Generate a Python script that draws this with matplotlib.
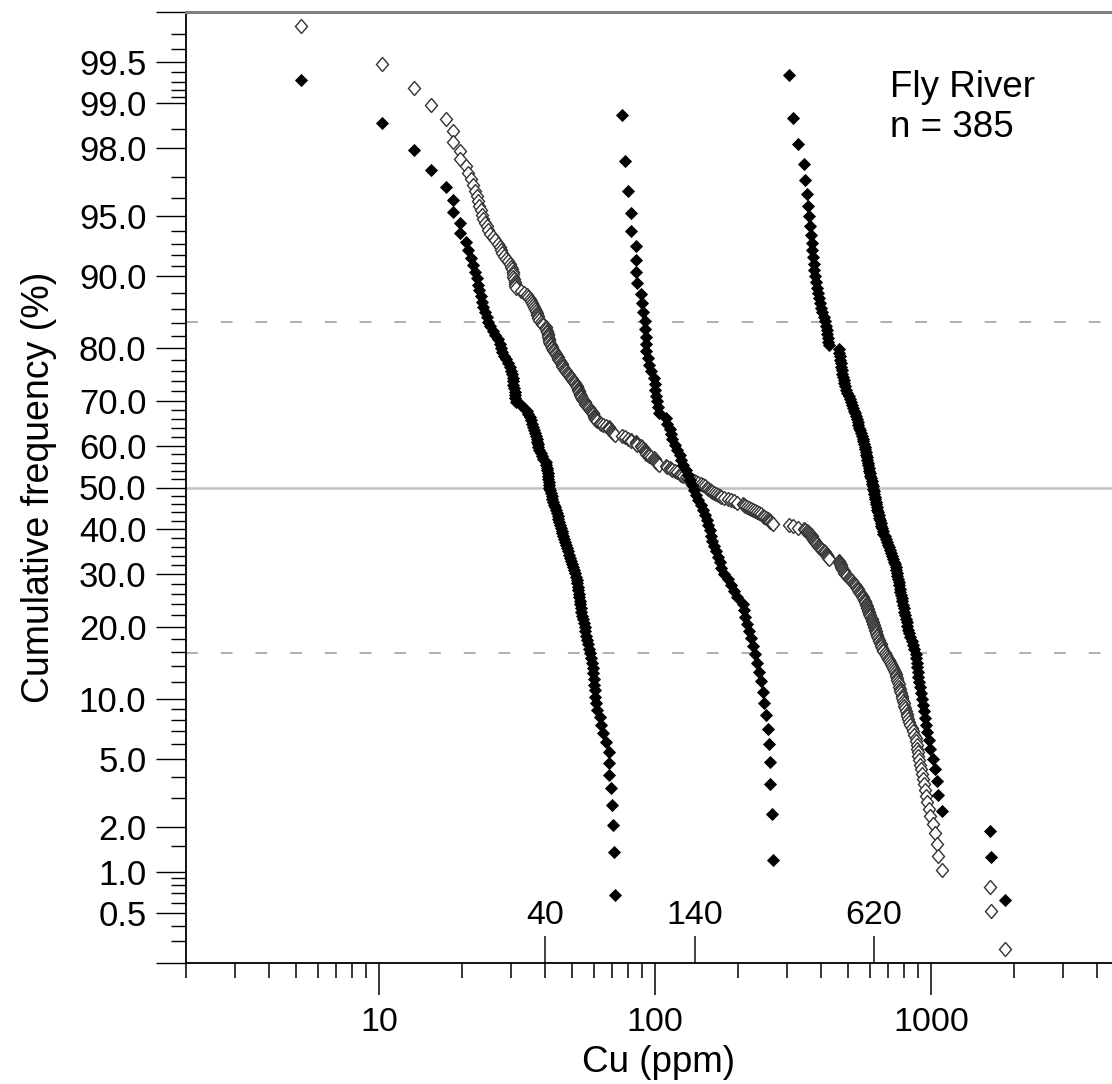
import math
import numpy as np
import matplotlib
matplotlib.use("Agg")
import matplotlib.pyplot as plt
from matplotlib.markers import MarkerStyle
from matplotlib.transforms import Affine2D
from matplotlib.ticker import LogLocator, NullFormatter

plt.rcParams['font.family'] = ['Liberation Sans', 'DejaVu Sans']
plt.rcParams['lines.scale_dashes'] = False

# Cu (ppm) of the three partitioned populations, sorted
cu_low = [
    5.2, 10.3, 13.4, 15.5, 17.5, 18.5, 18.5, 19.6, 19.6, 20.6,
    21.1, 21.6, 22.0, 22.3, 22.6, 22.9, 23.1, 23.4, 23.6, 23.9,
    24.2, 24.6, 24.9, 25.3, 25.8, 26.4, 26.9, 27.4, 27.6, 27.9,
    28.4, 28.9, 29.4, 29.8, 30.1, 30.3, 30.5, 30.6, 30.7, 30.8,
    31.0, 31.1, 31.1, 31.4, 32.7, 33.5, 34.4, 34.8, 35.2, 35.5,
    35.8, 36.1, 36.4, 36.7, 37.0, 37.3, 37.5, 37.6, 37.8, 38.1,
    38.6, 39.1, 39.4, 40.3, 40.4, 40.6, 40.8, 40.9, 41.1, 41.1,
    41.3, 41.3, 41.3, 41.6, 42.0, 42.3, 42.5, 42.7, 43.0, 43.4,
    43.8, 44.1, 44.5, 44.7, 45.1, 45.2, 45.6, 46.0, 46.2, 46.6,
    47.0, 47.3, 47.8, 48.2, 48.4, 48.8, 49.2, 49.6, 49.9, 50.5,
    50.9, 51.3, 51.7, 52.2, 52.4, 52.6, 52.8, 53.0, 53.2, 53.4,
    53.7, 53.9, 54.1, 54.4, 55.0, 55.5, 55.6, 55.9, 56.2, 56.6,
    57.3, 57.8, 58.2, 58.7, 59.2, 59.7, 59.9, 60.1, 60.4, 60.7,
    60.9, 61.4, 61.9, 63.0, 64.0, 65.1, 66.7, 67.9, 67.9, 68.1,
    69.4, 69.7, 70.7, 71.3, 71.7]

cu_mid = [
    75.9, 78.0, 80.2, 81.8, 81.8, 85.7, 85.7, 85.7, 86.4, 89.1,
    90.0, 90.8, 91.7, 92.4, 92.6, 92.6, 93.2, 94.4, 95.5, 97.1,
    99.2, 100.2, 100.4, 101.1, 102.1, 102.9, 103.4, 109.5, 110.9, 113.2,
    114.6, 115.6, 118.0, 120.5, 123.0, 124.5, 126.6, 129.3, 132.0, 133.6,
    136.4, 138.1, 140.4, 143.4, 146.4, 148.8, 151.9, 153.8, 155.8, 157.7,
    159.7, 160.7, 163.7, 166.4, 169.2, 172.0, 174.2, 178.6, 183.8, 188.4,
    193.2, 197.7, 208.1, 210.7, 212.5, 214.8, 218.7, 222.4, 226.1, 229.9,
    233.7, 237.6, 241.6, 245.6, 248.7, 251.8, 256.0, 258.8, 260.9, 260.9,
    264.6, 268.4]

cu_high = [
    307.2, 317.0, 328.8, 347.8, 349.3, 356.0, 358.1, 362.0, 365.6, 367.1,
    370.1, 372.3, 374.8, 376.9, 378.5, 381.7, 384.2, 386.7, 390.6, 393.2,
    397.1, 400.4, 404.4, 408.8, 412.2, 415.6, 419.1, 421.5, 423.6, 425.0,
    426.1, 465.2, 466.4, 467.9, 469.5, 470.6, 471.8, 474.6, 476.9, 480.1,
    482.5, 484.9, 488.9, 493.4, 498.3, 502.9, 507.9, 512.6, 517.3, 522.0,
    527.2, 531.1, 535.1, 539.1, 543.2, 545.9, 549.9, 553.6, 558.2, 560.5,
    565.2, 569.4, 572.3, 575.1, 578.0, 580.4, 582.3, 585.2, 587.6, 590.6,
    593.5, 596.5, 598.4, 601.4, 603.4, 606.4, 610.5, 612.5, 615.5, 617.6,
    620.7, 622.2, 624.8, 628.4, 630.0, 633.1, 635.2, 638.4, 642.1, 646.4,
    649.6, 653.9, 657.2, 661.5, 664.8, 668.7, 672.6, 679.3, 686.1, 691.2,
    697.0, 703.3, 709.8, 713.9, 720.4, 727.0, 733.1, 739.2, 745.3, 749.0,
    752.8, 756.5, 760.3, 764.1, 767.9, 771.7, 775.6, 779.4, 783.3, 788.5,
    792.4, 796.4, 801.6, 805.6, 811.0, 816.4, 820.4, 825.9, 832.0, 841.7,
    851.6, 861.5, 871.5, 879.5, 882.4, 886.8, 890.5, 894.2, 897.9, 902.4,
    912.2, 920.5, 929.7, 939.0, 947.6, 955.5, 963.4, 970.6, 981.9, 995.9,
    1014.2, 1033.7, 1052.7, 1062.3, 1099.9, 1636.9, 1650.5, 1853.6]

modes = [40, 140, 620]
mode_labels = ['40', '140', '620']
x_major = [10, 100, 1000]
x_labels = ['10', '100', '1000']
y_major = [0.5, 1, 2, 5, 10, 20, 30, 40, 50, 60, 70, 80, 90, 95, 98, 99, 99.5]
y_minor = [0.3, 0.4, 0.6, 0.7, 0.8, 0.9, 1.5, 3, 4, 6, 7, 8, 9, 12, 14, 16, 18,
           22, 24, 26, 28, 32, 34, 36, 38, 42, 44, 46, 48, 52, 54, 56, 58,
           62, 64, 66, 68, 72, 74, 76, 78, 82, 84, 86, 88, 91, 92, 93, 94,
           96, 97, 98.5, 99.1, 99.2, 99.3, 99.4, 99.6, 99.7]
sigma_lines = [15.87, 84.13]
site = 'Fly River'
n_label = 'n = 385'


def norm_ppf(p):
    # Acklam's rational approximation of the inverse normal cdf
    p = np.atleast_1d(np.asarray(p, dtype=float))
    a = [-3.969683028665376e+01, 2.209460984245205e+02, -2.759285104469687e+02,
         1.383577518672690e+02, -3.066479806614716e+01, 2.506628277459239e+00]
    b = [-5.447609879822406e+01, 1.615858368580409e+02, -1.556989798598866e+02,
         6.680131188771972e+01, -1.328068155288572e+01]
    c = [-7.784894002430293e-03, -3.223964580411365e-01, -2.400758277161838e+00,
         -2.549732539343734e+00, 4.374664141464968e+00, 2.938163982698783e+00]
    d = [7.784695709041462e-03, 3.224671290700398e-01, 2.445134137142996e+00,
         3.754408661907416e+00]
    out = np.empty_like(p)
    lo = p < 0.02425
    hi = p > 1 - 0.02425
    mid = ~(lo | hi)
    q = p[mid] - 0.5
    r = q * q
    out[mid] = ((((((a[0]*r + a[1])*r + a[2])*r + a[3])*r + a[4])*r + a[5]) * q /
                (((((b[0]*r + b[1])*r + b[2])*r + b[3])*r + b[4])*r + 1))
    for mask, sign, pp in ((lo, 1, p[lo]), (hi, -1, 1 - p[hi])):
        t = np.sqrt(-2 * np.log(pp))
        out[mask] = sign * ((((((c[0]*t + c[1])*t + c[2])*t + c[3])*t + c[4])*t + c[5]) /
                            ((((d[0]*t + d[1])*t + d[2])*t + d[3])*t + 1))
    return out


_erf = np.vectorize(math.erf)


def prob_fwd(pct):
    shape = np.shape(pct)
    p = np.clip(np.asarray(pct, dtype=float) / 100.0, 1e-9, 1 - 1e-9)
    return norm_ppf(p).reshape(shape)


def prob_inv(z):
    z = np.asarray(z, dtype=float)
    return 100.0 * 0.5 * (1 + _erf(z / math.sqrt(2)))


def cum_freq(values):
    # percent of samples above each sorted value, plotted at i/(n+1)
    n = len(values)
    return 100.0 * (n - np.arange(n)) / (n + 1)


fig = plt.figure(figsize=(11.12, 10.84), dpi=100)
# axes box in pixels: left 186, right at the figure edge, top 12, bottom 963
ax = fig.add_axes([186 / 1112, (1084 - 963) / 1084, (1112 - 186) / 1112, 951 / 1084])

ax.set_xscale('log')
ax.set_xlim(2, 4530)
ax.set_yscale('function', functions=(prob_fwd, prob_inv))
ax.set_ylim(0.2, 99.8)

ax.axhline(50, color='#c2c2c2', lw=1.8, zorder=1)
for p in sigma_lines:
    ax.axhline(p, color='#9a9a9a', lw=1.1, dashes=(8.5, 16.5), zorder=1)

cu_all = np.sort(np.concatenate([cu_low, cu_mid, cu_high]))
open_mk = MarkerStyle('D', transform=Affine2D().scale(0.92, 1.0))
ax.plot(cu_all, cum_freq(cu_all), ls='none', marker=open_mk, ms=6.8,
        mfc='white', mec='#333333', mew=1.0, zorder=3)
filled_mk = MarkerStyle('D', transform=Affine2D().scale(0.9, 1.0))
for vals in (cu_low, cu_mid, cu_high):
    ax.plot(vals, cum_freq(vals), ls='none', marker=filled_mk, ms=6.6,
            color='black', mew=0.6, zorder=4)

# axes styling
ax.spines['right'].set_visible(False)
ax.spines['top'].set_color('#808080')
ax.spines['top'].set_linewidth(2.2)
ax.spines['left'].set_linewidth(1.3)
ax.spines['bottom'].set_linewidth(1.3)

ax.set_xticks(x_major, x_labels)
ax.xaxis.set_minor_locator(LogLocator(base=10, subs=np.arange(2, 10), numticks=30))
ax.xaxis.set_minor_formatter(NullFormatter())
ax.tick_params(axis='x', which='major', length=23, width=1.1, pad=9, labelsize=24.5)
ax.tick_params(axis='x', which='minor', length=11, width=1.1)

ax.set_yticks([0.2] + y_major + [99.8], [''] + ['%.1f' % v for v in y_major] + [''])
ax.set_yticks(y_minor, minor=True)
ax.tick_params(axis='y', which='major', length=21.5, width=1.0, pad=7, labelsize=25)
ax.tick_params(axis='y', which='minor', length=11, width=1.0)

ax.set_ylabel('Cumulative frequency (%)', fontsize=27)
ax.yaxis.set_label_coords((57 - 186) / 926, 0.5)
ax.set_xlabel('Cu (ppm)', fontsize=26.5)
ax.xaxis.set_label_coords(0.51, (963 - 1045) / 951)

# inward ticks marking the population modes
trans = ax.get_xaxis_transform()
ax.vlines(modes, 0, 27 / 951, transform=trans, color='#111111', lw=1.1, clip_on=False)
for m, lab in zip(modes, mode_labels):
    ax.text(m, (963 - 924) / 951, lab, transform=trans, ha='center', va='baseline',
            fontsize=24.5)

ax.text((890 - 186) / 926, (963 - 97) / 951, site, transform=ax.transAxes,
        ha='left', va='baseline', fontsize=26.5)
ax.text((890 - 186) / 926, (963 - 137) / 951, n_label, transform=ax.transAxes,
        ha='left', va='baseline', fontsize=26.5)

fig.savefig('out.png', dpi=100, facecolor='white')
